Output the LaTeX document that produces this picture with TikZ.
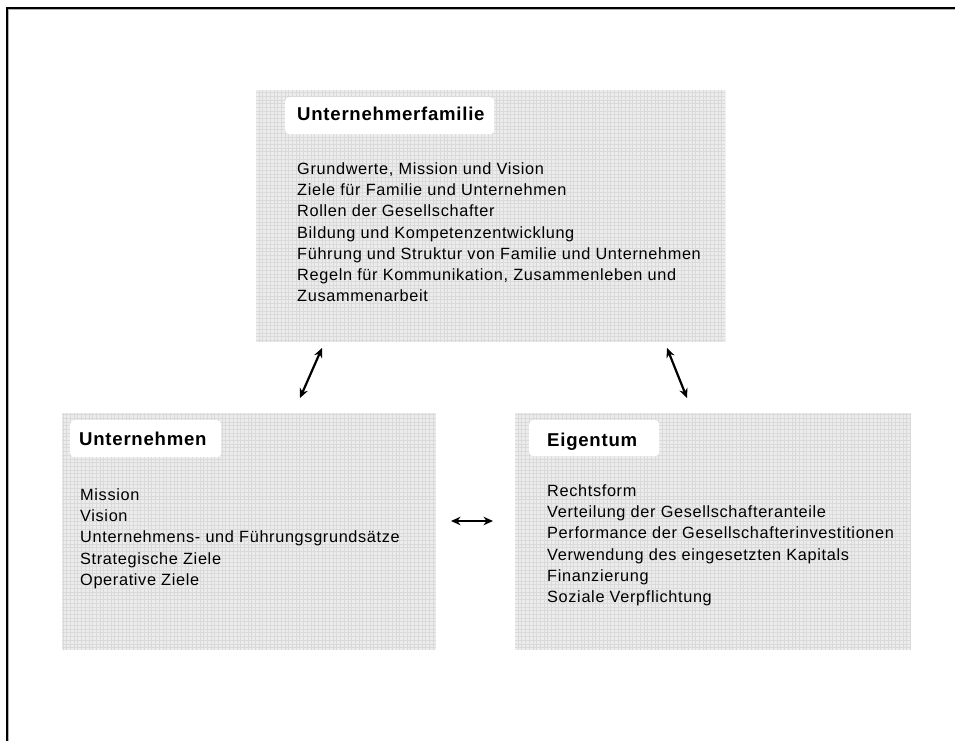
\documentclass[tikz,border=0pt]{standalone}
\usepackage{fontspec}
\setmainfont{Liberation Sans}[LetterSpace=4]
\usetikzlibrary{arrows.meta}
\definecolor{panelfill}{HTML}{ECECEC}
\definecolor{gridcol}{HTML}{DADADA}
\tikzset{
  panel/.style={fill=panelfill, draw=none, inner sep=0pt, anchor=north west},
  gridline/.style={draw=gridcol, line width=0.45pt},
  titlebox/.style={fill=white, rounded corners=4pt, inner sep=0pt, anchor=north west},
  titletext/.style={font=\fontsize{18.6}{22}\selectfont\bfseries, inner sep=0pt, anchor=base west},
  items/.style={font=\fontsize{16.3}{21.2}\selectfont, align=left, inner sep=0pt, anchor=north west},
  dblarrow/.style={{Stealth[length=9.5pt,width=8.5pt]}-{Stealth[length=9.5pt,width=8.5pt]}, line width=2.2pt, black},
}
\begin{document}
\begin{tikzpicture}[x=1pt,y=-1pt]
\useasboundingbox (0,0) rectangle (955,741);
\fill[white] (0,0) rectangle (955,741);
% frame (top and left only)
\draw[gray!60, line width=1pt] (8.8,741) -- (8.8,9.8) -- (955,9.8);
\draw[black, line width=2.2pt] (7,741) -- (7,8) -- (955,8);

% panels
\node[panel, minimum width=469pt, minimum height=252pt] (fam) at (256,90) {};
\node[panel, minimum width=374pt, minimum height=237pt] (unt) at (62,413) {};
\node[panel, minimum width=396pt, minimum height=237pt] (eig) at (515,413) {};
\foreach \p in {fam,unt,eig}{
  \begin{scope}
    \clip (\p.north west) rectangle (\p.south east);
    \draw[gridline, step=3.7pt] (\p.north west) grid (\p.south east);
  \end{scope}
}

% title boxes
\node[titlebox, minimum width=209pt, minimum height=37pt] (famt) at (285,97) {};
\node[titlebox, minimum width=151pt, minimum height=37pt] (untt) at (70,420) {};
\node[titlebox, minimum width=130pt, minimum height=36pt] (eigt) at (529,420) {};

\node[titletext] (famtitle) at (297,121) {Unternehmerfamilie};
\node[titletext] (unttitle) at (79,445) {Unternehmen};
\node[titletext] (eigtitle) at (547,446) {Eigentum};

% item lists
\node[items] (famitems) at (297,162.4) {Grundwerte, Mission und Vision\\
Ziele für Familie und Unternehmen\\
Rollen der Gesellschafter\\
Bildung und Kompetenzentwicklung\\
Führung und Struktur von Familie und Unternehmen\\
Regeln für Kommunikation, Zusammenleben und\\
Zusammenarbeit};

\node[items] (untitems) at (80,488.4) {Mission\\
Vision\\
Unternehmens- und Führungsgrundsätze\\
Strategische Ziele\\
Operative Ziele};

\node[items] (eigitems) at (547,484.4) {Rechtsform\\
Verteilung der Gesellschafteranteile\\
Performance der Gesellschafterinvestitionen\\
Verwendung des eingesetzten Kapitals\\
Finanzierung\\
Soziale Verpflichtung};

% connectors
\coordinate (a1) at (300,398);
\coordinate (a2) at (322,348);
\coordinate (b1) at (667,348);
\coordinate (b2) at (687,398);
\coordinate (c1) at (451,521);
\coordinate (c2) at (493,521);
\draw[dblarrow] (a1) -- (a2);
\draw[dblarrow] (b1) -- (b2);
\draw[dblarrow] (c1) -- (c2);
\end{tikzpicture}
\end{document}
